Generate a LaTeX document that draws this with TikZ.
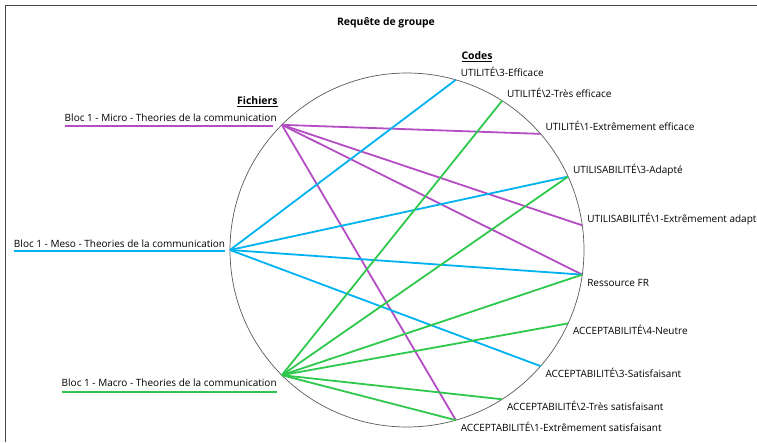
\documentclass[tikz,border=0pt]{standalone}
\usepackage{fontspec}
\setmainfont{Open Sans}
\usetikzlibrary{calc}
\definecolor{cpurple}{RGB}{180,76,196}
\definecolor{cblue}{RGB}{0,178,240}
\definecolor{cgreen}{RGB}{46,200,76}
\definecolor{cframe}{RGB}{70,70,70}
\definecolor{ccircle}{RGB}{90,90,90}
\begin{document}
\begin{tikzpicture}[x=1pt,y=-1pt,
  font=\fontsize{10}{12}\selectfont,
  lbl/.style={inner sep=0pt},
  uplbl/.style={lbl,anchor=base west},
  link/.style={line width=1.8pt},
  head/.style={inner sep=0pt,font=\fontsize{10.4}{12}\selectfont\bfseries}]
\useasboundingbox (0,0) rectangle (757,442);
\draw[cframe,line width=1.3pt] (5.5,442) -- (5.5,5.5) -- (757,5.5);
\coordinate (c) at (407,250);
\draw[ccircle,line width=0.7pt] (c) circle[radius=177pt];
% file points
\coordinate (micro) at ($(c)+(225:177)$);
\coordinate (meso)  at ($(c)+(180:177)$);
\coordinate (macro) at ($(c)+(135:177)$);
% code points
\coordinate (u3) at ($(c)+(-74:177)$);
\coordinate (u2) at ($(c)+(-57.5:177)$);
\coordinate (u1) at ($(c)+(-41:177)$);
\coordinate (s3) at ($(c)+(-24.5:177)$);
\coordinate (s1) at ($(c)+(-8:177)$);
\coordinate (rf) at ($(c)+(8:177)$);
\coordinate (a4) at ($(c)+(24.5:177)$);
\coordinate (a3) at ($(c)+(41:177)$);
\coordinate (a2) at ($(c)+(57.5:177)$);
\coordinate (a1) at ($(c)+(74:177)$);
% title and headers
\node[head] (title) at (386,23) {Requête de groupe};
\node[head,anchor=base east] (fich) at (277.7,104.5) {\underline{Fichiers}};
\node[head,anchor=base west] (codes) at (461.3,59.5) {\underline{Codes}};
% code labels
\node[uplbl] (lu3) at ($(u3)+(4.8,-3)$) {UTILITÉ\textbackslash 3-Efficace};
\node[uplbl] (lu2) at ($(u2)+(4.8,-3)$) {UTILITÉ\textbackslash 2-Très efficace};
\node[uplbl] (lu1) at ($(u1)+(4.8,-3)$) {UTILITÉ\textbackslash 1-Extrêmement efficace};
\node[uplbl] (ls3) at ($(s3)+(4.8,-3)$) {UTILISABILITÉ\textbackslash 3-Adapté};
\node[uplbl] (ls1) at ($(s1)+(4.8,-3)$) {UTILISABILITÉ\textbackslash 1-Extrêmement adapté};
\node[uplbl] (lrf) at ($(rf)+(4.8,11.5)$) {Ressource FR};
\node[uplbl] (la4) at ($(a4)+(4.8,11.5)$) {ACCEPTABILITÉ\textbackslash 4-Neutre};
\node[uplbl] (la3) at ($(a3)+(4.8,11.5)$) {ACCEPTABILITÉ\textbackslash 3-Satisfaisant};
\node[uplbl] (la2) at ($(a2)+(4.8,11.5)$) {ACCEPTABILITÉ\textbackslash 2-Très satisfaisant};
\node[uplbl] (la1) at ($(a1)+(4.8,11.5)$) {ACCEPTABILITÉ\textbackslash 1-Extrêmement satisfaisant};
% file labels
\node[lbl,anchor=base east] (lmicro) at ($(micro)+(-5,-3)$) {Bloc 1 - Micro - Theories de la communication};
\node[lbl,anchor=base east] (lmeso) at ($(meso)+(-4.7,-2.5)$) {Bloc 1 - Meso - Theories de la communication};
\node[lbl,anchor=base east] (lmacro) at ($(macro)+(-5,11.7)$) {Bloc 1 - Macro - Theories de la communication};
\draw[link,cpurple] ($(lmicro.base west)+(0,4.2)$) -- ($(lmicro.base east)+(-4,4.2)$);
\draw[link,cblue] ($(lmeso.base west)+(0,3.6)$) -- ($(lmeso.base east)+(0,3.6)$);
\draw[link,cgreen] ($(lmacro.base west)+(0,5.4)$) -- ($(lmacro.base east)+(0.6,5.4)$);
% connectors: Micro
\draw[link,cpurple] (micro) -- (u1);
\draw[link,cpurple] (micro) -- (s1);
\draw[link,cpurple] (micro) -- (rf);
\draw[link,cpurple] (micro) -- (a1);
% Meso
\draw[link,cblue] (meso) -- (u3);
\draw[link,cblue] (meso) -- (s3);
\draw[link,cblue] (meso) -- (rf);
\draw[link,cblue] (meso) -- (a3);
% Macro
\draw[link,cgreen] (macro) -- (u2);
\draw[link,cgreen] (macro) -- (s3);
\draw[link,cgreen] (macro) -- (rf);
\draw[link,cgreen] (macro) -- (a4);
\draw[link,cgreen] (macro) -- (a2);
\draw[link,cgreen] (macro) -- (a1);
\end{tikzpicture}
\end{document}
